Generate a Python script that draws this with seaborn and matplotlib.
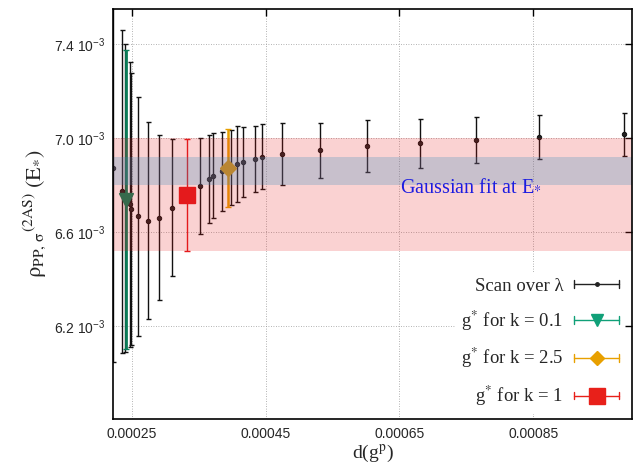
import numpy as np
import pandas as pd
import matplotlib
matplotlib.use("Agg")
import matplotlib.pyplot as plt
import seaborn as sns
from matplotlib.legend_handler import HandlerBase
from matplotlib.lines import Line2D

# ---------------- data ----------------
scan_x = [0.0002227, 0.0002358, 0.0002396, 0.0002470, 0.0002493, 0.0002593,
          0.0002751, 0.0002910, 0.0003100, 0.0003522, 0.0003661, 0.0003721,
          0.0003855, 0.0003981, 0.0004070, 0.0004160, 0.0004343, 0.0004452,
          0.0004746, 0.0005309, 0.0006019, 0.0006810, 0.0007646, 0.0008582,
          0.0009855]
scan_y = [6.874, 6.774, 6.747, 6.718, 6.699, 6.668, 6.649, 6.661, 6.705,
          6.798, 6.828, 6.841, 6.859, 6.877, 6.891, 6.899, 6.912, 6.921,
          6.934, 6.949, 6.966, 6.979, 6.991, 7.004, 7.017]          # x 1e-3
scan_err = [0.828, 0.689, 0.656, 0.609, 0.579, 0.509, 0.420, 0.352, 0.293,
            0.204, 0.187, 0.180, 0.169, 0.160, 0.162, 0.150, 0.141, 0.139,
            0.131, 0.118, 0.110, 0.104, 0.098, 0.094, 0.091]        # x 1e-3

gstar_labels = ["g$^{*}$ for k = 0.1", "g$^{*}$ for k = 2.5", "g$^{*}$ for k = 1"]
gstar_x = [0.0002422, 0.0003936, 0.0003333]
gstar_y = [6.739, 6.874, 6.760]
gstar_err = [0.639, 0.165, 0.239]

band_red = [6.52, 7.00]
band_blue = [6.80, 6.921]

xticks = [0.00025, 0.00045, 0.00065, 0.00085]
xtick_labels = ["0.00025", "0.00045", "0.00065", "0.00085"]
yticks = [6.2, 6.6, 7.0, 7.4]
ytick_labels = ["6.2 10$^{-3}$", "6.6 10$^{-3}$", "7.0 10$^{-3}$", "7.4 10$^{-3}$"]

S = 1e-3
scan = pd.DataFrame({"x": scan_x, "y": np.array(scan_y) * S, "e": np.array(scan_err) * S})

# ---------------- style ----------------
sns.set_theme(style="white")
plt.rcParams["font.family"] = ["Liberation Serif", "DejaVu Serif"]
plt.rcParams["mathtext.fontset"] = "stix"
plt.rcParams["mathtext.rm"] = "Liberation Sans"
plt.rcParams["mathtext.it"] = "Liberation Sans:italic"
plt.rcParams["mathtext.bf"] = "Liberation Sans:bold"
plt.rcParams["mathtext.sf"] = "Liberation Sans"

fig = plt.figure(figsize=(6.37, 4.65), dpi=100)
ax = fig.add_axes([0.178, 0.0996, 0.8146, 0.880])

# scan errorbars + points
ax.errorbar(scan["x"], scan["y"], yerr=scan["e"], fmt="none", ecolor="#111111",
            elinewidth=1.0, capsize=1.8, capthick=1.0, zorder=2)
sns.scatterplot(data=scan, x="x", y="y", ax=ax, color="#222222", s=10,
                edgecolor="#111111", linewidth=0.7, zorder=3, legend=False)

plot_cols = ["#0b7d58", "#e69f00", "#e41a1c"]
markers = ["v", "D", "s"]
msizes = [9.5, 8.0, 11.5]
lws = [2.0, 1.8, 1.0]
for i in range(3):
    ax.errorbar([gstar_x[i]], [gstar_y[i] * S], yerr=[gstar_err[i] * S],
                fmt=markers[i], color=plot_cols[i], ms=msizes[i], mec=plot_cols[i],
                elinewidth=lws[i], capsize=2.3, capthick=1.0, zorder=3.5)

# bands (drawn semi-transparent on top, like the reference)
ax.axhspan(band_red[0] * S, band_red[1] * S, color=(0.90, 0.12, 0.12), alpha=0.2, lw=0, zorder=4)
ax.axhspan(band_blue[0] * S, band_blue[1] * S, color=(53 / 255, 140 / 255, 188 / 255),
           alpha=0.25, lw=0, zorder=5)

ax.text(0.000651, 6.774e-3, "Gaussian fit at E$_{*}$", color="#1c1ce0",
        fontsize=14.5, va="baseline", ha="left", zorder=6, math_fontfamily="stix")

# axes
ax.set_xlim(0.0002227, 0.000998)
ax.set_ylim(5.805e-3, 7.549e-3)
ax.set_xticks(xticks)
ax.set_xticklabels(xtick_labels, fontfamily="Liberation Sans", fontsize=10)
ax.set_yticks([v * S for v in yticks])
ax.set_yticklabels(ytick_labels, fontfamily="Liberation Sans", fontsize=10,
                   math_fontfamily="custom")
ax.tick_params(direction="in", top=True, right=True, length=5, width=1,
               color="black", pad=6)
ax.grid(True, linestyle=(0, (1, 2)), color="#9a9a9a", lw=0.6, zorder=0)
ax.set_axisbelow(True)
for sp in ax.spines.values():
    sp.set_color("black")
    sp.set_linewidth(1.2)
    sp.set_zorder(10)

ax.set_xlabel("d(g$^{\\mathrm{p}}$)", fontsize=14, math_fontfamily="stix", labelpad=1)
ax.set_ylabel("$\\mathrm{\\rho}_{\\mathrm{PP,\\,\\sigma}}{}^{\\mathrm{(2AS)}}\\;(\\mathrm{E}_{*})$",
              fontsize=16, math_fontfamily="stix", labelpad=4)


# ---------------- legend ----------------
class CapHandler(HandlerBase):
    def __init__(self, color, marker, ms, lw):
        super().__init__()
        self.c, self.m, self.ms, self.lw = color, marker, ms, lw

    def create_artists(self, legend, orig_handle, xdescent, ydescent, width,
                       height, fontsize, trans):
        y = height / 2 - ydescent
        x0, x1 = -xdescent, width - xdescent
        h = 2.8
        arts = [Line2D([x0, x1], [y, y], color=self.c, lw=self.lw),
                Line2D([x0, x0], [y - h, y + h], color=self.c, lw=self.lw),
                Line2D([x1, x1], [y - h, y + h], color=self.c, lw=self.lw),
                Line2D([(x0 + x1) / 2], [y], marker=self.m, ms=self.ms,
                       color=self.c, mec=self.c, ls="none")]
        for a in arts:
            a.set_transform(trans)
        return arts


leg_cols = ["#222222", "#10a078", "#e8a000", "#e8201a"]
leg_mark = ["o", "v", "D", "s"]
leg_ms = [2.5, 9, 7.5, 11.5]
leg_lw = [1.0, 1.0, 1.0, 1.0]
labels = ["Scan over λ"] + gstar_labels
handles = [Line2D([], []) for _ in labels]
hmap = {h: CapHandler(leg_cols[i], leg_mark[i], leg_ms[i], leg_lw[i])
        for i, h in enumerate(handles)}
leg = ax.legend(handles, labels, handler_map=hmap, loc="lower right",
                bbox_to_anchor=(0.986, 0.012), borderaxespad=0, markerfirst=False,
                frameon=True, facecolor="white", edgecolor="none", framealpha=1,
                handlelength=2.4, handletextpad=0.6,
                labelspacing=0.72, borderpad=0.3,
                prop={"family": "Liberation Serif", "size": 13.5})
leg.set_zorder(8)
for t in leg.get_texts():
    t.set_math_fontfamily("stix")

fig.savefig("out.png", dpi=100)
